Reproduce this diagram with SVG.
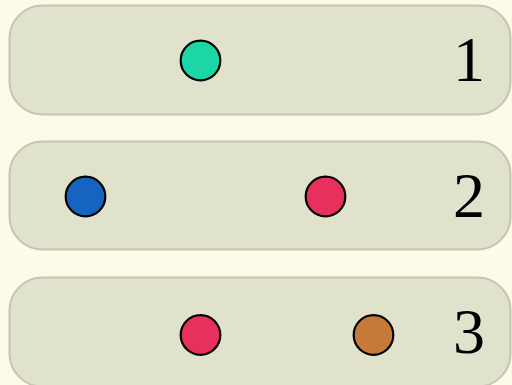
<svg xmlns="http://www.w3.org/2000/svg" width="512" height="385" viewBox="0 0 512 385">
<style>
.panel{fill:#e0e2cc;stroke:#c3c4b2;stroke-width:2}
.dot{stroke:#000;stroke-width:2.2}
.lbl{font-family:"Liberation Serif",serif;font-size:64px;fill:#000;text-anchor:middle}
</style>
<rect width="512" height="385" fill="#fefae9"/>
<g id="row1">
<rect class="panel" x="9.5" y="5.5" width="501" height="109" rx="33"/>
<circle class="dot" cx="200.5" cy="60.5" r="19.8" fill="#1dd6a6"/>
<text class="lbl" x="469" y="80.5">1</text>
</g>
<g id="row2">
<rect class="panel" x="9.5" y="141.5" width="501" height="108" rx="33"/>
<circle class="dot" cx="85.5" cy="196.5" r="19.8" fill="#1565c0"/>
<circle class="dot" cx="325.5" cy="196.5" r="19.8" fill="#e8305e"/>
<text class="lbl" x="469" y="217">2</text>
</g>
<g id="row3">
<rect class="panel" x="9.5" y="277.5" width="501" height="109" rx="33"/>
<circle class="dot" cx="200.5" cy="335" r="19.8" fill="#e8305e"/>
<circle class="dot" cx="373.5" cy="335" r="19.8" fill="#c57a3a"/>
<text class="lbl" x="469" y="353">3</text>
</g>
<g id="connectors"/>
</svg>
